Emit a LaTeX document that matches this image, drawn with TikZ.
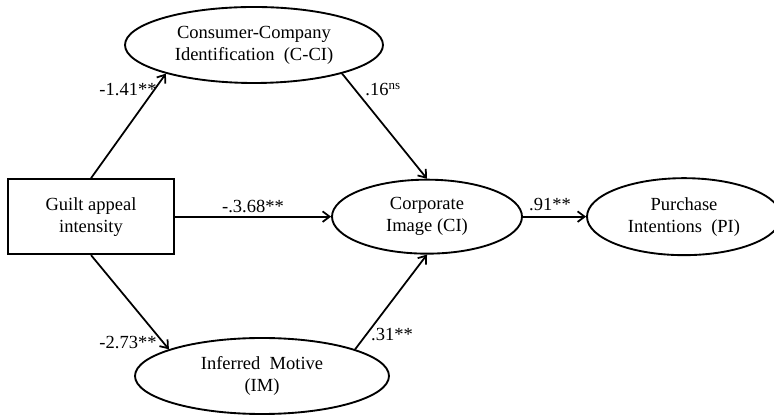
\documentclass[tikz,border=0pt]{standalone}
\usepackage{fontspec}
\setmainfont{Liberation Serif}
\usetikzlibrary{shapes.geometric, arrows.meta}

\begin{document}
\begin{tikzpicture}[
    latent/.style={draw, ellipse, line width=1.6pt, inner sep=0pt, align=center},
    observed/.style={draw, rectangle, line width=1.6pt, inner sep=0pt, align=center},
    path/.style={-{Straight Barb[length=6pt,width=9pt]}, line width=1.5pt},
    coef/.style={inner sep=0pt}
  ]
            \useasboundingbox (0,0) rectangle (23.22,12.45);
            \fontsize{15.8pt}{18.8pt}\selectfont

            % Constructs
            \node[observed, minimum width=4.98cm, minimum height=2.25cm] (gai) at (2.73,5.95) {Guilt appeal\\intensity};
            \node[latent, minimum width=7.74cm, minimum height=2.28cm] (cci) at (7.62,11.1) {Consumer-Company\\Identification~ (C-CI)};
            \node[latent, minimum width=5.7cm, minimum height=2.22cm] (ci) at (12.81,5.95) {Corporate\\Image (CI)};
            \node[latent, minimum width=5.82cm, minimum height=2.31cm] (pi) at (20.52,5.95) {Purchase\\Intentions~ (PI)};
            \node[latent, minimum width=7.62cm, minimum height=2.28cm] (im) at (7.86,1.17) {Inferred~ Motive\\(IM)};

            % Paths
            \draw[path] (gai.north) -- (cci.198);
            \draw[path] (cci.-18) -- (ci.north);
            \draw[path] (gai.east) -- (ci.west);
            \draw[path] (gai.south) -- (im.164);
            \draw[path] (im.16) -- (ci.south);
            \draw[path] (ci.east) -- (pi.west);

            % Coefficients
            \node[coef] (c1) at (3.84,9.75) {-1.41**};
            \node[coef] (c2) at (11.49,9.75) {.16\textsuperscript{ns}};
            \node[coef] (c3) at (7.59,6.27) {-.3.68**};
            \node[coef] (c4) at (3.84,2.16) {-2.73**};
            \node[coef] (c5) at (11.76,2.4) {.31**};
            \node[coef] (c6) at (16.5,6.3) {.91**};
        \end{tikzpicture}
\end{document}
